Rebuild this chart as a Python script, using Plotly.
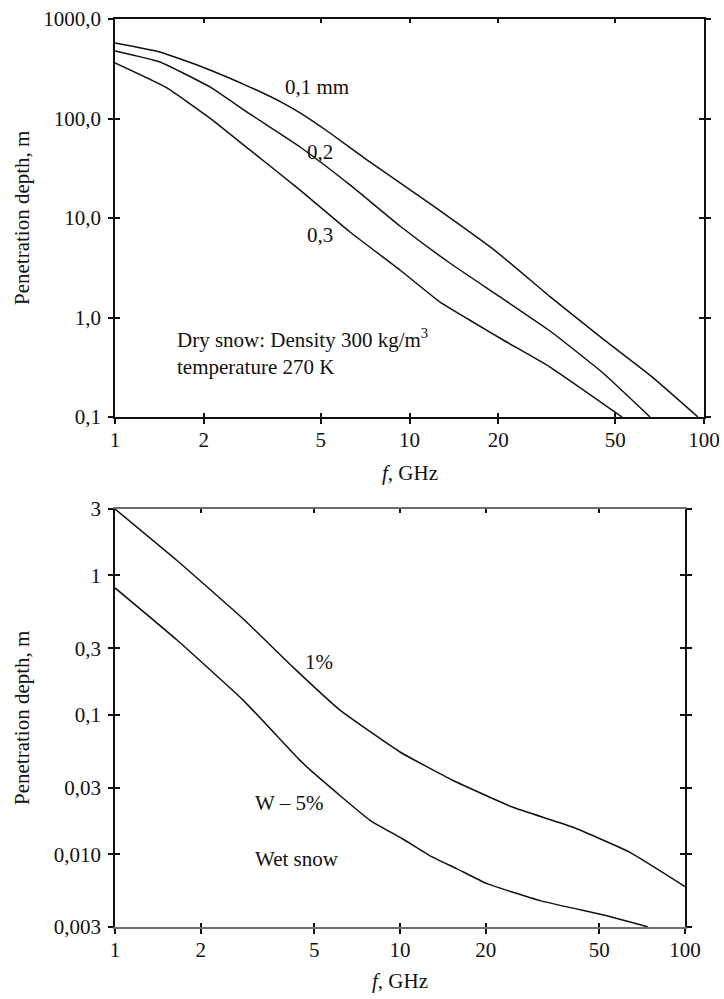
import numpy as np
import plotly.graph_objects as go

# ---------------- data ----------------
# Top panel: dry snow, grain size 0.1 / 0.2 / 0.3 mm
f_01 = [1.0, 1.42, 1.94, 2.87, 3.72, 4.25, 5.37, 7.17, 12.0, 19.7, 30.0, 44.8, 66.3, 95.4]
d_01 = [574, 466, 337, 207, 143, 114, 71.5, 38.3, 13.3, 4.60, 1.62, 0.627, 0.256, 0.100]

f_02 = [1.0, 1.42, 2.10, 2.87, 4.25, 6.28, 9.28, 13.7, 20.3, 30.0, 45.4, 65.6]
d_02 = [477, 370, 208, 111, 51.7, 21.5, 8.31, 3.53, 1.61, 0.732, 0.277, 0.100]

f_03 = [1.0, 1.50, 2.10, 2.87, 4.25, 6.28, 9.28, 12.7, 16.0, 20.8, 30.0, 52.7]
d_03 = [361, 203, 101, 48.3, 19.1, 7.23, 3.00, 1.43, 0.944, 0.594, 0.318, 0.100]

# Bottom panel: wet snow, W = 1 % and 5 %
f_w1 = [1.0, 1.65, 2.82, 4.22, 6.16, 10.0, 15.3, 24.9, 40.5, 64.1, 100]
d_w1 = [3.0, 1.28, 0.487, 0.219, 0.108, 0.0541, 0.0339, 0.0217, 0.0156, 0.0103, 0.00585]

f_w5 = [1.0, 1.65, 2.82, 4.46, 4.95, 7.85, 10.2, 12.7, 15.8, 20.2, 31.0, 53.2, 65.7, 74.2]
d_w5 = [0.814, 0.344, 0.127, 0.0471, 0.0386, 0.0175, 0.0129, 0.00977, 0.00788, 0.00614,
        0.00464, 0.00361, 0.00322, 0.0030]

x_tickvals = [1, 2, 5, 10, 20, 50, 100]
x_ticktext = ["1", "2", "5", "10", "20", "50", "100"]
y1_tickvals = [0.1, 1, 10, 100, 1000]
y1_ticktext = ["0,1", "1,0", "10,0", "100,0", "1000,0"]
y2_tickvals = [0.003, 0.01, 0.03, 0.1, 0.3, 1, 3]
y2_ticktext = ["0,003", "0,010", "0,03", "0,1", "0,3", "1", "3"]

# curve labels (frequency GHz, depth m)
top_labels = [("0,1 mm", 3.72, 207), ("0,2", 4.42, 46.0), ("0,3", 4.42, 6.75),
              ("Dry snow: Density 300 kg/m<sup>3</sup>", 1.60, 0.622),
              ("temperature 270 K", 1.60, 0.318)]
bot_labels = [("1%", 4.57, 0.239), ("W – 5%", 3.05, 0.0231), ("Wet snow", 3.05, 0.00929)]

# ---------------- styling ----------------
FONT = "Liberation Serif, Times New Roman, serif"
FS = 21
INK = "#111111"
W, H = 724, 999

def px_x(a, b):
    return [a / W, b / W]

def px_y(top, bottom):
    return [1 - bottom / H, 1 - top / H]

top_xd = px_x(115, 704)
top_yd = px_y(19, 417)
bot_xd = px_x(115, 685)
bot_yd = px_y(509, 927)

fig = go.Figure()
line = dict(color=INK, width=1.5, shape="spline", smoothing=0.4)
for fx, dy in [(f_01, d_01), (f_02, d_02), (f_03, d_03)]:
    fig.add_trace(go.Scatter(x=fx, y=dy, mode="lines", line=line, xaxis="x", yaxis="y",
                             showlegend=False, hoverinfo="skip"))
for fx, dy in [(f_w1, d_w1), (f_w5, d_w5)]:
    fig.add_trace(go.Scatter(x=fx, y=dy, mode="lines", line=line, xaxis="x2", yaxis="y2",
                             showlegend=False, hoverinfo="skip"))
# empty traces so the overlay (inner-tick) axes are drawn
fig.add_trace(go.Scatter(x=[], y=[], xaxis="x3", yaxis="y3", showlegend=False, hoverinfo="skip"))
fig.add_trace(go.Scatter(x=[], y=[], xaxis="x4", yaxis="y4", showlegend=False, hoverinfo="skip"))

tickfont = dict(family=FONT, size=FS, color=INK)

def xax(domain, anchor, lc, lw, overlay=None):
    d = dict(type="log", range=[0, 2], domain=domain, anchor=anchor, automargin=False,
             tickvals=x_tickvals, ticktext=x_ticktext, showgrid=False, zeroline=False,
             showline=True, linecolor=lc, linewidth=lw, tickcolor=INK, tickwidth=1.5,
             ticklen=5, tickfont=tickfont)
    if overlay is None:
        d.update(ticks="outside", mirror=True, ticklabelstandoff=-2)
    else:
        d.update(ticks="inside", mirror="ticks", overlaying=overlay, showticklabels=False,
                 ticklen=4)
    return d

def yax(domain, anchor, rng, tv, tt, lc, lw, overlay=None):
    d = dict(type="log", range=rng, domain=domain, anchor=anchor, automargin=False,
             tickvals=tv, ticktext=tt, showgrid=False, zeroline=False,
             showline=True, linecolor=lc, linewidth=lw, tickcolor=INK, tickwidth=1.5,
             ticklen=5, tickfont=tickfont, mirror="ticks")
    if overlay is None:
        d.update(ticks="outside", ticklabelstandoff=3)
    else:
        d.update(ticks="inside", overlaying=overlay, showticklabels=False)
    return d

y1r = [np.log10(0.1), np.log10(1000)]
y2r = [np.log10(0.003), np.log10(3)]

fig.update_layout(
    width=W, height=H, margin=dict(l=0, r=0, t=0, b=0, pad=0, autoexpand=False),
    paper_bgcolor="white", plot_bgcolor="rgba(0,0,0,0)",
    xaxis=xax(top_xd, "y", INK, 1.8),
    yaxis=yax(top_yd, "x", y1r, y1_tickvals, y1_ticktext, INK, 1.8),
    xaxis3=xax(top_xd, "y", INK, 1.8, overlay="x"),
    yaxis3=yax(top_yd, "x", y1r, y1_tickvals, y1_ticktext, INK, 1.8, overlay="y"),
    xaxis2=xax(bot_xd, "y2", "#6e6e6e", 2.4),
    yaxis2=yax(bot_yd, "x2", y2r, y2_tickvals, y2_ticktext, INK, 1.8),
    xaxis4=xax(bot_xd, "y2", "#6e6e6e", 2.4, overlay="x2"),
    yaxis4=yax(bot_yd, "x2", y2r, y2_tickvals, y2_ticktext, INK, 1.8, overlay="y2"),
    font=dict(family=FONT, size=FS, color=INK),
)

ann = []
for txt, fx, dy in top_labels:
    ann.append(dict(text=txt, x=np.log10(fx), y=np.log10(dy), xref="x", yref="y",
                    xanchor="left", yanchor="middle", showarrow=False,
                    font=dict(family=FONT, size=FS, color=INK)))
for txt, fx, dy in bot_labels:
    ann.append(dict(text=txt, x=np.log10(fx), y=np.log10(dy), xref="x2", yref="y2",
                    xanchor="left", yanchor="middle", showarrow=False,
                    font=dict(family=FONT, size=FS, color=INK)))
# axis titles
for yc in (218, 718):
    ann.append(dict(text="Penetration depth, m", x=22 / W, y=1 - yc / H, xref="paper", yref="paper",
                    textangle=-90, xanchor="center", yanchor="middle", showarrow=False,
                    font=dict(family=FONT, size=FS, color=INK)))
for xc, yc in ((410, 473), (400, 981)):
    ann.append(dict(text="<i>f</i>, GHz", x=xc / W, y=1 - yc / H, xref="paper", yref="paper",
                    xanchor="center", yanchor="middle", showarrow=False,
                    font=dict(family=FONT, size=FS, color=INK)))
fig.update_layout(annotations=ann)

fig.write_html("out.html")
